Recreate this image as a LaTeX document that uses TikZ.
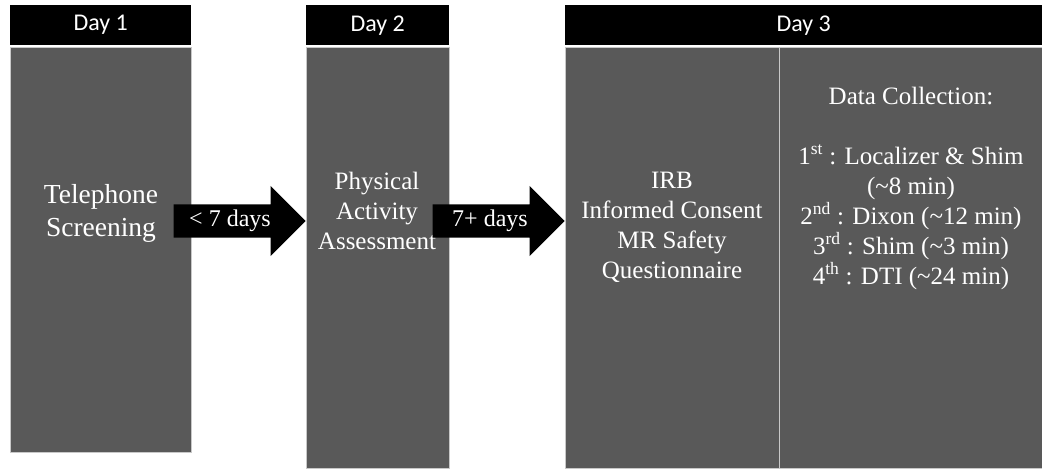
\documentclass[tikz,border=0pt]{standalone}
\usepackage{fontspec}
\setmainfont{Liberation Serif}
\newfontfamily\hdfont{Carlito}
\usetikzlibrary{shapes,positioning}

\definecolor{panelgray}{HTML}{595959}
\definecolor{panelline}{HTML}{C8C8C8}

\begin{document}
\begin{tikzpicture}[x=1pt,y=-1pt]
	\tikzstyle{Header}	= [rectangle, fill=black, text=white, anchor=north west, minimum height=40pt, inner sep=0pt, font=\hdfont\fontsize{24}{28}\selectfont]
	\tikzstyle{Panel}	= [rectangle, fill=panelgray, draw=panelline, line width=0.8pt, anchor=north west, inner sep=0pt]
	\tikzstyle{StepText}	= [text=white, align=center, inner sep=0pt, font=\fontsize{25}{30}\selectfont]
	\tikzstyle{Gap}		= [single arrow, fill=black, anchor=tip, minimum height=132pt, inner xsep=0pt, inner ysep=16.5pt, single arrow head extend=18.5pt, single arrow tip angle=90]
	\tikzstyle{GapText}	= [text=white, inner sep=0pt, font=\fontsize{24}{28}\selectfont]

	\useasboundingbox (0,0) rectangle (1042,469);

	% day columns
	\node (h1) at (10,5) [Header, minimum width=181pt] {Day 1};
	\node (p1) at (10,47) [Panel, minimum width=181pt, minimum height=405pt] {};
	\node (h2) at (306,5) [Header, minimum width=143pt] {Day 2};
	\node (p2) at (306,47) [Panel, minimum width=143pt, minimum height=421pt] {};
	\node (h3) at (565,5) [Header, minimum width=477pt] {Day 3};
	\node (p3a) at (565,47) [Panel, minimum width=214pt, minimum height=421pt] {};
	\node (p3b) at (779,47) [Panel, minimum width=263pt, minimum height=421pt] {};

	% texts
	\node (tel) at (101,213) [StepText, font=\fontsize{27.5}{33}\selectfont] {Telephone\\Screening};
	\node (pa) at (377,211) [StepText] {Physical\\Activity\\Assessment};
	\node (irb) at (672,227) [StepText] {IRB\\Informed Consent\\MR Safety\\Questionnaire};
	\node (dc) at (911,188) [StepText] {Data Collection:\\[30pt]
		1\textsuperscript{st} : Localizer \& Shim\\
		(\textasciitilde 8 min)\\
		2\textsuperscript{nd} : Dixon (\textasciitilde 12 min)\\
		3\textsuperscript{rd} : Shim (\textasciitilde 3 min)\\
		4\textsuperscript{th} : DTI (\textasciitilde 24 min)};

	% arrows between days
	\coordinate (lvl) at (0,221);
	\node (g1) [Gap] at (p2.west |- lvl) {};
	\node (g2) [Gap] at (p3a.west |- lvl) {};
	\node (g1txt) at (230,221) [GapText] {< 7 days};
	\node (g2txt) at (490,221) [GapText] {7+ days};
\end{tikzpicture}
\end{document}
